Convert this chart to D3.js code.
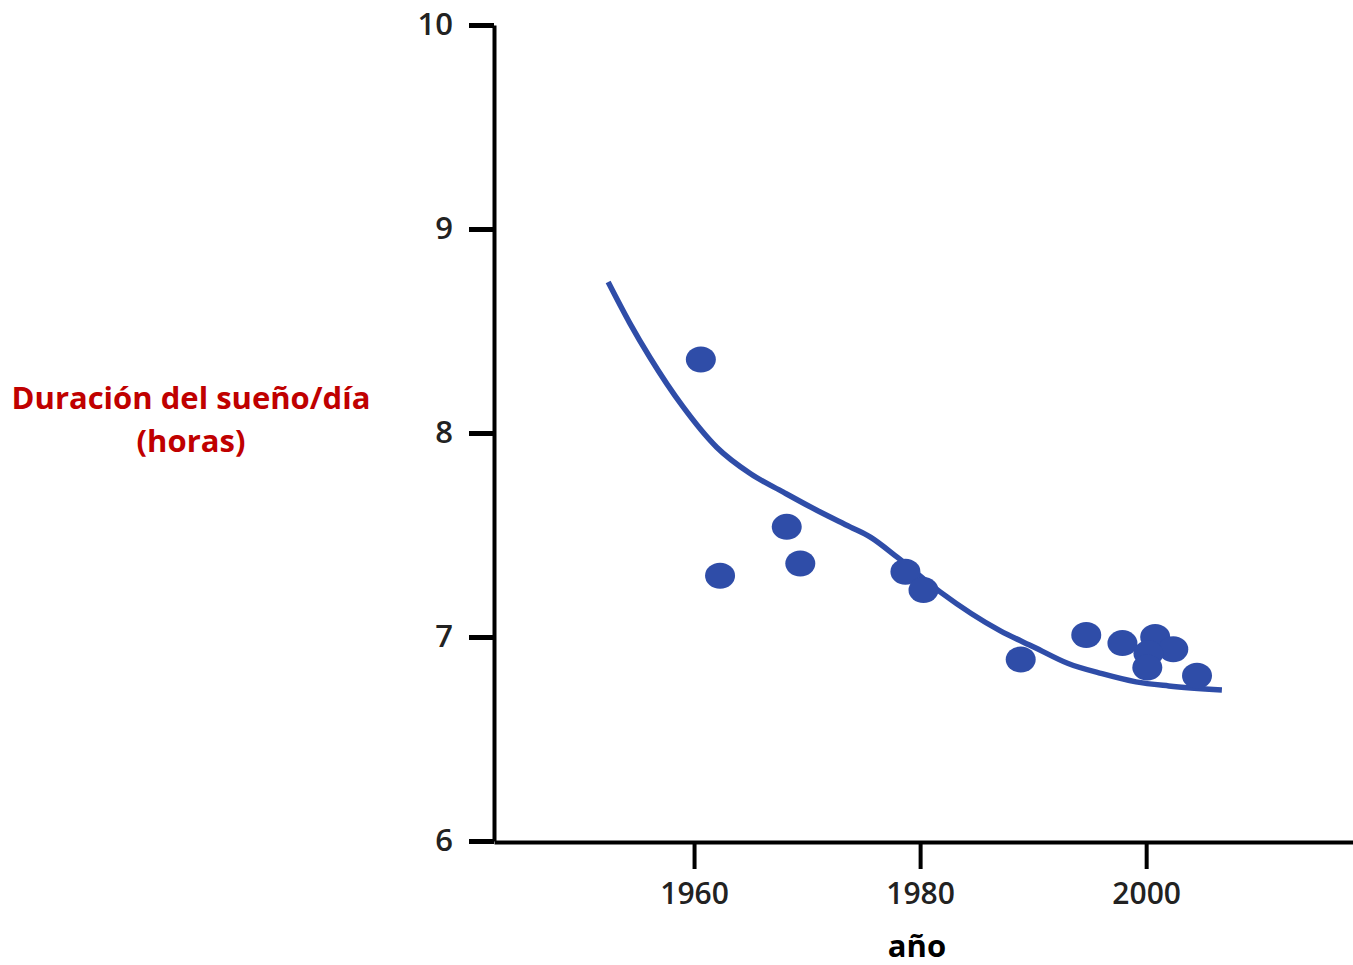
<!DOCTYPE html>
<meta charset="utf-8">
<style>
body { margin: 0; background: #fff; }
text { font-family: "Open Sans", sans-serif; }
</style>
<body>
<script src="https://cdn.jsdelivr.net/npm/d3@7"></script>
<script>
// observed points (year, hours)
var years  = [1960.6, 1962.3, 1968.2, 1969.4, 1978.7, 1980.3, 1988.9, 1994.7, 1997.9, 2000.8, 2002.4, 2000.2, 2000.1, 2004.5],
    hours  = [8.36, 7.30, 7.54, 7.36, 7.32, 7.23, 6.89, 7.01, 6.97, 7.00, 6.94, 6.92, 6.85, 6.81];

// fitted trend line
var trendYears = [1952.4, 1954.3, 1956.1, 1959.0, 1962.0, 1965.0, 1967.9, 1970.9, 1973.8, 1975.6, 1978.0, 1981.8, 1987.1, 1990.1, 1993.1, 1996.1, 1999.1, 2002.0, 2006.7],
    trendHours = [8.74, 8.54, 8.37, 8.13, 7.93, 7.80, 7.71, 7.62, 7.54, 7.49, 7.39, 7.22, 7.03, 6.95, 6.87, 6.82, 6.78, 6.76, 6.74];

var xTicks = [1960, 1980, 2000],
    yTicks = [6, 7, 8, 9, 10];

var yTitle = ["Duración del sueño/día", "(horas)"],
    xTitle = "año";

var width = 1353, height = 965,
    blue = "#2f4da8";

var svg = d3.select("body").append("svg")
    .attr("width", width)
    .attr("height", height);

var x = d3.scaleLinear().domain([1942.3, 2018.3]).range([494, 1353]),
    y = d3.scaleLinear().domain([6, 10]).range([841, 25]);

// y axis
var gy = svg.append("g")
    .attr("transform", "translate(494,0)")
    .call(d3.axisLeft(y).tickValues(yTicks).tickFormat(d3.format("d"))
        .tickSize(25).tickSizeOuter(0).tickPadding(16));
gy.select(".domain").attr("stroke", "#000").attr("stroke-width", 4);
gy.selectAll(".tick line").attr("stroke", "#000").attr("stroke-width", 5);
gy.selectAll(".tick text")
    .attr("fill", "#222")
    .style("font-size", "31px")
    .style("font-weight", 600);

// x axis
var gx = svg.append("g")
    .attr("transform", "translate(0,842)")
    .call(d3.axisBottom(x).tickValues(xTicks).tickFormat(d3.format("d"))
        .tickSize(27).tickSizeOuter(0).tickPadding(14));
gx.select(".domain").attr("stroke", "#000").attr("stroke-width", 4);
gx.selectAll(".tick line").attr("stroke", "#000").attr("stroke-width", 4);
gx.selectAll(".tick text")
    .attr("fill", "#222")
    .style("font-size", "30px")
    .style("font-weight", 600);

// trend curve
var line = d3.line()
    .x(function(d, i) { return x(trendYears[i]); })
    .y(function(d, i) { return y(trendHours[i]); })
    .curve(d3.curveMonotoneX);

svg.append("path")
    .datum(trendYears)
    .attr("d", line)
    .attr("fill", "none")
    .attr("stroke", blue)
    .attr("stroke-width", 5.5);

// dots
svg.append("g").selectAll("ellipse")
    .data(years)
    .enter()
    .append("ellipse")
    .attr("cx", function(d) { return x(d); })
    .attr("cy", function(d, i) { return y(hours[i]); })
    .attr("rx", 15)
    .attr("ry", 13)
    .attr("fill", blue);

// titles
svg.append("text")
    .attr("x", 191)
    .attr("text-anchor", "middle")
    .attr("fill", "#c00000")
    .style("font-size", "31px")
    .style("font-weight", 700)
    .selectAll("tspan")
    .data(yTitle)
    .enter()
    .append("tspan")
    .attr("x", 191)
    .attr("y", function(d, i) { return 409 + i * 43; })
    .text(Object);

svg.append("text")
    .attr("x", 917)
    .attr("y", 957)
    .attr("text-anchor", "middle")
    .attr("fill", "#000")
    .style("font-size", "31px")
    .style("font-weight", 700)
    .text(xTitle);
</script>
